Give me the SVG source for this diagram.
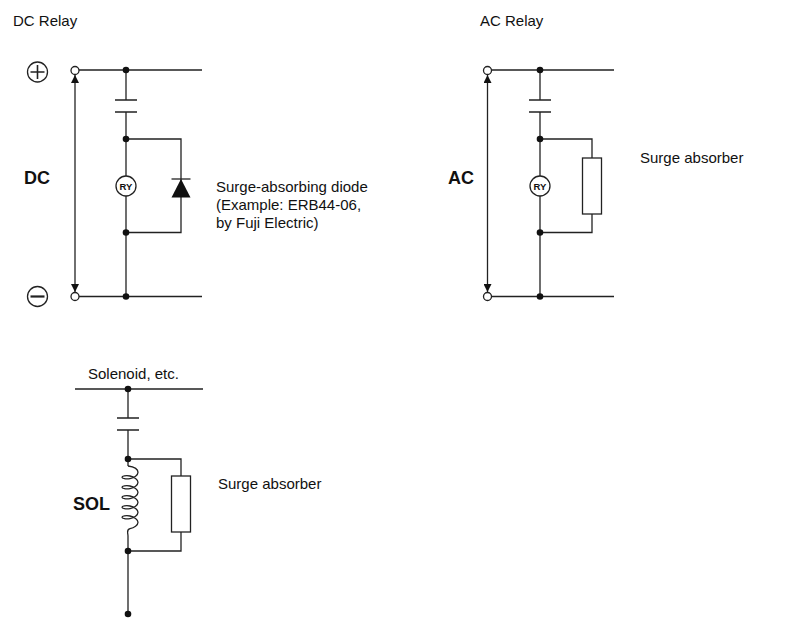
<svg xmlns="http://www.w3.org/2000/svg" width="793" height="618" viewBox="0 0 793 618">
<defs>
<style>
.w{fill:none;stroke:#222;stroke-width:1.3}
.d{fill:#111}
.t{font-family:"Liberation Sans",Arial,sans-serif;font-size:15px;fill:#111}
.b{font-family:"Liberation Sans",Arial,sans-serif;font-size:18px;font-weight:bold;fill:#111}
.ry{font-family:"Liberation Sans",Arial,sans-serif;font-size:9.5px;font-weight:bold;fill:#111}
.o{fill:#fff;stroke:#222;stroke-width:1.3}
</style>
<marker id="ah" viewBox="0 0 10 10" refX="10" refY="5" markerWidth="9" markerHeight="8" markerUnits="userSpaceOnUse" orient="auto-start-reverse">
<path d="M0,0 L10,5 L0,10 z" fill="#111"/>
</marker>
</defs>
<rect width="793" height="618" fill="#fff"/>

<text class="t" x="13" y="26">DC Relay</text>
<text class="t" x="480" y="26">AC Relay</text>

<g id="connectors">
<!-- DC relay -->
<path class="w" d="M79,70 H202 M79,296.5 H202 M126,70 V100 M126,112 V176 M126,196 V296.5 M126,139 H181 V232.5 H126"/>
<path class="w" d="M75,75 V292" marker-start="url(#ah)" marker-end="url(#ah)"/>
<!-- AC relay -->
<path class="w" d="M491.5,70 H614 M491.5,296.5 H614 M540,70 V100 M540,112 V176 M540,196 V296.5 M540,139 H592 V158 M592,214 V232.5 H540"/>
<path class="w" d="M487.5,75 V292" marker-start="url(#ah)" marker-end="url(#ah)"/>
<!-- Solenoid -->
<path class="w" d="M75,389 H203 M128,389 V418 M128,430 V466 M128,536 V614 M128,459 H181 V476 M181,532 V551 H128"/>
</g>

<g id="dc-plus">
<circle cx="37.5" cy="72" r="10" class="w"/>
<path class="w" d="M30.5,72 H44.5 M37.5,65 V79" style="stroke-width:1.6"/>
</g>
<g id="dc-minus">
<circle cx="37.5" cy="296.5" r="10" class="w"/>
<path class="w" d="M30.5,296.5 H44.5" style="stroke-width:2.2"/>
</g>
<g id="dc-term-top"><circle cx="75" cy="70.5" r="4" class="o"/></g>
<g id="dc-term-bot"><circle cx="75" cy="296.5" r="4" class="o"/></g>
<g id="dc-label"><text class="b" x="24" y="184">DC</text></g>
<g id="dc-contact"><path class="w" d="M115,100 H137 M115,112 H137"/></g>
<g id="dc-ry">
<circle cx="126" cy="186" r="10" class="o"/>
<text class="ry" x="126" y="189.5" text-anchor="middle">RY</text>
</g>
<g id="dc-diode">
<path class="d" d="M171.5,197.5 L190.5,197.5 L181,179 z"/>
<path class="w" d="M171.5,179 H190.5"/>
</g>
<g id="dc-dots">
<circle class="d" cx="126" cy="70" r="3.3"/>
<circle class="d" cx="126" cy="139" r="3.3"/>
<circle class="d" cx="126" cy="232.5" r="3.3"/>
<circle class="d" cx="126" cy="296.5" r="3.3"/>
</g>
<g id="dc-note">
<text class="t" x="216" y="192">Surge-absorbing diode</text>
<text class="t" x="216" y="210">(Example: ERB44-06,</text>
<text class="t" x="216" y="228">by Fuji Electric)</text>
</g>

<g id="ac-term-top"><circle cx="487.5" cy="70.5" r="4" class="o"/></g>
<g id="ac-term-bot"><circle cx="487.5" cy="296.5" r="4" class="o"/></g>
<g id="ac-label"><text class="b" x="448" y="184">AC</text></g>
<g id="ac-contact"><path class="w" d="M529,100 H551 M529,112 H551"/></g>
<g id="ac-ry">
<circle cx="540" cy="186" r="10" class="o"/>
<text class="ry" x="540" y="189.5" text-anchor="middle">RY</text>
</g>
<g id="ac-absorber"><rect x="582.5" y="158" width="19" height="56" class="o"/></g>
<g id="ac-dots">
<circle class="d" cx="540" cy="70" r="3.3"/>
<circle class="d" cx="540" cy="139" r="3.3"/>
<circle class="d" cx="540" cy="232.5" r="3.3"/>
<circle class="d" cx="540" cy="296.5" r="3.3"/>
</g>
<g id="ac-note"><text class="t" x="640" y="163">Surge absorber</text></g>

<g id="sol-title"><text class="t" x="88" y="379">Solenoid, etc.</text></g>
<g id="sol-contact"><path class="w" d="M117,418 H139 M117,430 H139"/></g>
<g id="sol-coil">
<path class="w" d="M128,466 C134.19,466.833 138,469.477 138,472.3 C138,475.123 134.19,477.767 130,478.6 C125.81,479.433 122,478.456 122,477.3
C122,476.144 125.81,475.167 130,476 C134.19,476.833 138,479.477 138,482.3 C138,485.123 134.19,487.767 130,488.6 C125.81,489.433 122,488.456 122,487.3
C122,486.144 125.81,485.167 130,486 C134.19,486.833 138,489.477 138,492.3 C138,495.123 134.19,497.767 130,498.6 C125.81,499.433 122,498.456 122,497.3
C122,496.144 125.81,495.167 130,496 C134.19,496.833 138,499.477 138,502.3 C138,505.123 134.19,507.767 130,508.6 C125.81,509.433 122,508.456 122,507.3
C122,506.144 125.81,505.167 130,506 C134.19,506.833 138,509.477 138,512.3 C138,515.123 134.19,517.767 130,518.6 C125.81,519.433 122,518.456 122,517.3
C122,516.144 125.81,515.167 130,516 C134.19,516.833 138,519.477 138,522.3 C138,525.123 134.19,527.767 130,528.6 C126,529.5 128,533 128,536"/>
</g>
<g id="sol-label"><text class="b" x="73" y="510">SOL</text></g>
<g id="sol-absorber"><rect x="171.5" y="476" width="19" height="56" class="o"/></g>
<g id="sol-dots">
<circle class="d" cx="128" cy="389" r="3.3"/>
<circle class="d" cx="128" cy="459" r="3.3"/>
<circle class="d" cx="128" cy="551" r="3.3"/>
<circle class="d" cx="128" cy="614" r="3.3"/>
</g>
<g id="sol-note"><text class="t" x="218" y="489">Surge absorber</text></g>
</svg>
